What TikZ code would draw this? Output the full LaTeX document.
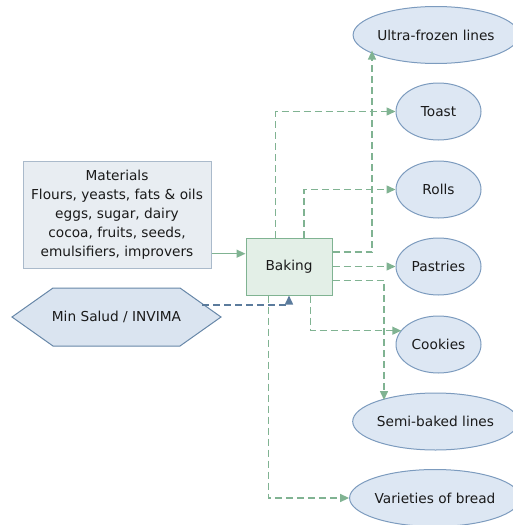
\documentclass[tikz,border=0pt]{standalone}
\usepackage{fontspec}
\setmainfont{DejaVu Sans}
\usetikzlibrary{shapes.geometric,arrows.meta,calc}
\definecolor{flowgreen}{HTML}{80B392}
\definecolor{bakefill}{HTML}{E3EFE7}
\definecolor{matfill}{HTML}{E8EDF2}
\definecolor{matline}{HTML}{AABACB}
\definecolor{ovalfill}{HTML}{DDE7F3}
\definecolor{ovalline}{HTML}{7C9BBE}
\definecolor{hexfill}{HTML}{DAE4F0}
\definecolor{hexline}{HTML}{6787A8}
\definecolor{ctrlblue}{HTML}{5B7B9C}
\definecolor{txt}{HTML}{1A1A1A}
\tikzset{
  x=1pt, y=-1pt,
  every node/.style={font=\fontsize{13.7}{19}\selectfont, text=txt, inner sep=0pt},
  product/.style={ellipse, draw=ovalline, fill=ovalfill, line width=1pt,
    minimum width=85pt, minimum height=57pt},
  wideproduct/.style={product, minimum width=155pt},
  flow/.style={draw=flowgreen, line width=1.5pt, dash pattern=on 7pt off 4pt,
    -{Triangle[length=9pt,width=8pt]}},
  control/.style={draw=ctrlblue, line width=1.5pt, dash pattern=on 7pt off 4pt,
    -{Triangle[length=9pt,width=8pt]}},
  supply/.style={draw=flowgreen, line width=1.5pt, -{Triangle[length=9pt,width=8pt]}}
}
\begin{document}
\begin{tikzpicture}
\useasboundingbox (0,0) rectangle (513,525);

% raw materials
\node[draw=matline, fill=matfill, line width=1pt, minimum width=188pt,
  minimum height=107pt, align=center] (materials) at (117,214.5)
  {Materials\\Flours, yeasts, fats \& oils\\eggs, sugar, dairy\\cocoa, fruits, seeds,\\emulsifiers, improvers};

% regulator hexagon
\fill[hexfill] (12,317) -- (53,288) -- (180,288) -- (221,317) -- (180,346) -- (53,346) -- cycle;
\draw[hexline, line width=1pt] (12,317) -- (53,288) -- (180,288) -- (221,317) -- (180,346) -- (53,346) -- cycle;
\node (regulator) at (116.5,317) {Min Salud / INVIMA};
\coordinate (regout) at (202,305);

% process
\node[draw=flowgreen, fill=bakefill, line width=1pt, minimum width=86pt,
  minimum height=57pt] (baking) at (289,266.5) {Baking};

% products
\node[wideproduct] (ultra) at (436,35) {Ultra-frozen lines};
\node[product] (toast) at (438.5,111.5) {Toast};
\node[product] (rolls) at (438.5,189.5) {Rolls};
\node[product] (pastries) at (438.5,266.5) {Pastries};
\node[product] (cookies) at (438.5,344.5) {Cookies};
\node[wideproduct] (semi) at (435.5,421.5) {Semi-baked lines};
\node[wideproduct, minimum width=156pt] (varieties) at (435,498) {Varieties of bread};

% arrow tips that meet the ovals off their compass anchors
\coordinate (ultratip) at (372,50.6);
\coordinate (semitip) at (384,400);
\coordinate (cookietip) at (401.3,330.7);

% connectors
\draw[supply] (materials.east |- 0,253.7) -- (baking.west |- 0,253.7);
\draw[control] (regout) -| (baking.south);

\draw[flow] ([yshift=14.5pt]baking.east) -| (ultratip);
\draw[flow] ([xshift=-13.3pt]baking.north) |- (toast.west);
\draw[flow] ([xshift=15pt]baking.north) |- (rolls.west);
\draw[flow] (baking.east) -- (pastries.west);
\draw[flow] ([yshift=-14pt]baking.east) -| (semitip);
\draw[flow] ([xshift=21.7pt]baking.south) |- (cookietip);
\draw[flow] ([xshift=-20.7pt]baking.south) |- (varieties.west);
\end{tikzpicture}
\end{document}
